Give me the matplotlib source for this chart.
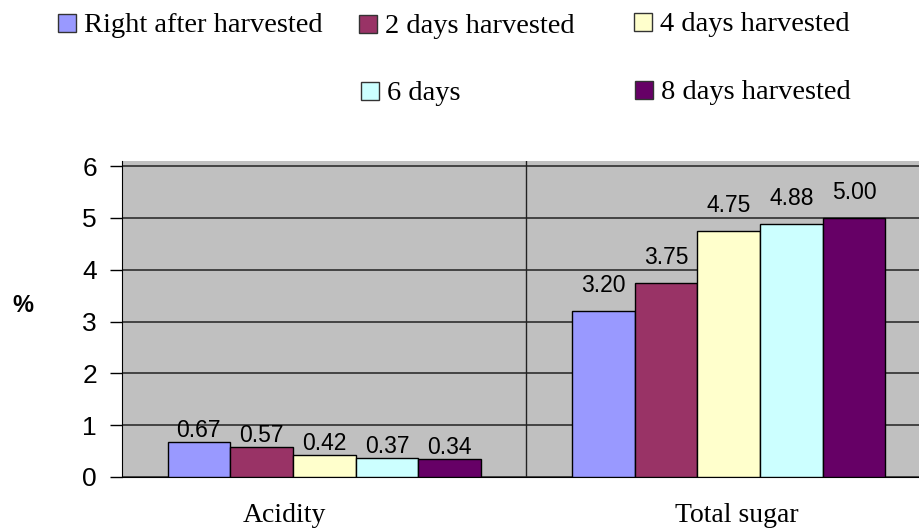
import matplotlib
matplotlib.use("Agg")

import matplotlib.pyplot as plt
import matplotlib.transforms as mtransforms
import numpy as np
from matplotlib.patches import Rectangle

# ---------------------------------------------------------------------------
# DATA
# ---------------------------------------------------------------------------

categories = ["Acidity", "Total sugar"]
series_names = [
    "Right after harvested",
    "2 days harvested",
    "4 days harvested",
    "6 days",
    "8 days harvested",
]
acidity = [0.67, 0.57, 0.42, 0.37, 0.34]
total_sugar = [3.20, 3.75, 4.75, 4.88, 5.00]
series_colors = ["#9999FF", "#993366", "#FFFFCC", "#CCFFFF", "#660066"]
y_ticks = [0, 1, 2, 3, 4, 5, 6]

# legend slots in figure pixels (swatch left x, text baseline y), top-left origin
legend_slots = [(58, 32), (359, 33), (634, 31), (361, 100), (635, 99)]
# horizontal nudge of each category label, pixels
cat_shift = [-40, 8]

W, H = 919, 530
SERIF = ["Liberation Serif", "DejaVu Serif"]
SANS = ["Liberation Sans", "DejaVu Sans"]

# ---------------------------------------------------------------------------
# PLOT
# ---------------------------------------------------------------------------

fig = plt.figure(figsize=(W / 100, H / 100), dpi=100)
ax = fig.add_axes([122 / W, 53 / H, 809 / W, 316 / H])
ax.set_facecolor("#C0C0C0")

values = np.array([acidity, total_sugar]).T  # one row per series
x = np.arange(len(categories))
bar_w = 0.155
n = len(series_names)
label_pad = [0, 10]  # points above bar top, per category

for i, (name, vals, col) in enumerate(zip(series_names, values, series_colors)):
    offs = (i - (n - 1) / 2) * bar_w
    bars = ax.bar(x + offs, vals, width=bar_w, color=col, edgecolor="black",
                  linewidth=1.0, zorder=3, label=name)
    for j, (b, v) in enumerate(zip(bars, vals)):
        ax.annotate(f"{v:.2f}", (b.get_x() + b.get_width() / 2, v),
                    xytext=(0, label_pad[j]), textcoords="offset points",
                    ha="center", va="bottom", fontsize=16.5, family=SANS,
                    zorder=4)

ax.set_xlim(-0.5, 1.5)
ax.set_ylim(0, 6.1)

ax.set_yticks(y_ticks)
ax.set_yticklabels([str(t) for t in y_ticks], family=SANS, fontsize=19)
ax.yaxis.grid(True, color="#222222", linewidth=1.1, zorder=1)
ax.axvline(0.5, color="#222222", linewidth=1.0, zorder=1)
ax.tick_params(axis="y", direction="out", length=9, width=1, pad=9)

ax.set_xticks(x)
ax.set_xticklabels(categories, family=SERIF, fontsize=20)
ax.tick_params(axis="x", length=0, pad=19)
for lbl, dx in zip(ax.get_xticklabels(), cat_shift):
    shift = mtransforms.ScaledTranslation(dx / 100, 0, fig.dpi_scale_trans)
    lbl.set_transform(lbl.get_transform() + shift)

for side in ("top", "right"):
    ax.spines[side].set_visible(False)
ax.spines["left"].set_color("black")
ax.spines["bottom"].set_color("black")

fig.text(23 / W, 1 - 305 / H, "%", fontsize=17, fontweight="bold",
         family=SANS, ha="center", va="center")

# ---------------------------------------------------------------------------
# LEGEND
# ---------------------------------------------------------------------------

sq = 18
for (lx, ly), name, col in zip(legend_slots, series_names, series_colors):
    fig.patches.append(Rectangle(
        (lx / W, 1 - ly / H), sq / W, sq / H,
        transform=fig.transFigure, facecolor=col, edgecolor="#333333",
        linewidth=1.0))
    fig.text((lx + sq + 8) / W, 1 - ly / H, name, fontsize=20.5,
             family=SERIF, ha="left", va="baseline")

fig.savefig("out.png", dpi=100)
plt.close(fig)
